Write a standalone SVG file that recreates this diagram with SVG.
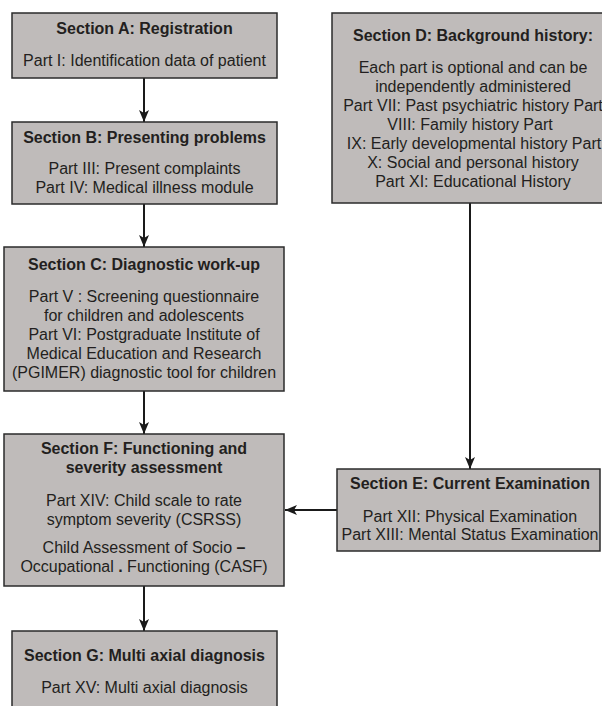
<svg xmlns="http://www.w3.org/2000/svg" width="602" height="706" viewBox="0 0 602 706">
<defs>
<style>
.box{fill:#bfbbba;stroke:#2b2b2b;stroke-width:1.5}
.t{font-family:"Liberation Sans",Arial,sans-serif;font-size:16px;fill:#231f20;text-anchor:middle}
.b{font-weight:bold}
.c{stroke:#1a1a1a;stroke-width:2;fill:none}
</style>
<marker id="ah" markerUnits="userSpaceOnUse" markerWidth="12" markerHeight="10" refX="12" refY="5" orient="auto">
<path d="M0,0 L12,5 L0,10 L3,5 z" fill="#1a1a1a"/>
</marker>
</defs>
<rect width="602" height="706" fill="#ffffff"/>
<g id="connectors">
<line class="c" x1="144" y1="78" x2="144" y2="122" marker-end="url(#ah)"/>
<line class="c" x1="144" y1="204" x2="144" y2="247" marker-end="url(#ah)"/>
<line class="c" x1="144" y1="391" x2="144" y2="434" marker-end="url(#ah)"/>
<line class="c" x1="144" y1="586" x2="144" y2="631" marker-end="url(#ah)"/>
<line class="c" x1="470" y1="203" x2="470" y2="469" marker-end="url(#ah)"/>
<line class="c" x1="337" y1="510" x2="285" y2="510" marker-end="url(#ah)"/>
</g>
<g id="sectionA">
<rect class="box" x="12" y="13" width="265" height="65"/>
<text class="t b" x="144.5" y="34">Section A: Registration</text>
<text class="t" x="144.5" y="66">Part I: Identification data of patient</text>
</g>
<g id="sectionB">
<rect class="box" x="12" y="122" width="265" height="82"/>
<text class="t b" x="144.5" y="143">Section B: Presenting problems</text>
<text class="t" x="144.5" y="174">Part III: Present complaints</text>
<text class="t" x="144.5" y="193">Part IV: Medical illness module</text>
</g>
<g id="sectionC">
<rect class="box" x="4" y="247" width="280" height="144"/>
<text class="t b" x="144" y="270">Section C: Diagnostic work-up</text>
<text class="t" x="144" y="302">Part V : Screening questionnaire</text>
<text class="t" x="144" y="321">for children and adolescents</text>
<text class="t" x="144" y="340">Part VI: Postgraduate Institute of</text>
<text class="t" x="144" y="359">Medical Education and Research</text>
<text class="t" x="144" y="378">(PGIMER) diagnostic tool for children</text>
</g>
<g id="sectionD">
<rect class="box" x="332" y="13" width="290" height="190"/>
<text class="t b" x="473" y="41">Section D: Background history:</text>
<text class="t" x="473" y="73">Each part is optional and can be</text>
<text class="t" x="473" y="92">independently administered</text>
<text class="t" x="473" y="111">Part VII: Past psychiatric history Part</text>
<text class="t" x="470" y="130">VIII: Family history Part</text>
<text class="t" x="474" y="149">IX: Early developmental history Part</text>
<text class="t" x="473" y="168">X: Social and personal history</text>
<text class="t" x="473" y="187">Part XI: Educational History</text>
</g>
<g id="sectionE">
<rect class="box" x="337" y="469" width="263" height="82"/>
<text class="t b" x="470" y="489">Section E: Current Examination</text>
<text class="t" x="470" y="522">Part XII: Physical Examination</text>
<text class="t" x="470" y="540">Part XIII: Mental Status Examination</text>
</g>
<g id="sectionF">
<rect class="box" x="4" y="434" width="280" height="152"/>
<text class="t b" x="144" y="454">Section F: Functioning and</text>
<text class="t b" x="144" y="473">severity assessment</text>
<text class="t" x="144" y="506">Part XIV: Child scale to rate</text>
<text class="t" x="144" y="525">symptom severity (CSRSS)</text>
<text class="t" x="144" y="553">Child Assessment of Socio <tspan font-weight="bold">–</tspan></text>
<text class="t" x="144" y="572">Occupational <tspan font-weight="bold">.</tspan> Functioning (CASF)</text>
</g>
<g id="sectionG">
<rect class="box" x="12" y="631" width="265" height="90"/>
<text class="t b" x="144.5" y="661">Section G: Multi axial diagnosis</text>
<text class="t" x="144.5" y="693">Part XV: Multi axial diagnosis</text>
</g>
</svg>
